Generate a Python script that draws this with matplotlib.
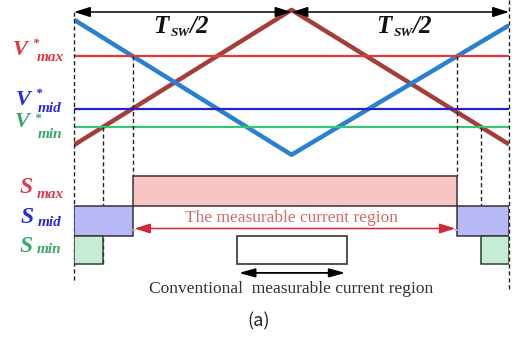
import numpy as np
import matplotlib.pyplot as plt
from matplotlib.patches import Rectangle, Circle

W, H = 518, 339

# carrier waveforms over one switching period (t as a fraction of Tsw)
t_knots = [0.0, 0.5, 1.0]
carrier_blue = [0.89, -1.04, 0.81]
carrier_brown = [-0.90, 1.03, -0.89]

# reference voltages V*max, V*mid, V*min
ref_names = ['max', 'mid', 'min']
ref_levels = [0.37, -0.39, -0.64]
ref_colors = ['#e23a3a', '#2424c8', '#38c474']
ref_label_colors = ['#e0383e', '#2a2ad8', '#38a868']

# switching state rows S_max, S_mid, S_min
state_rows = [(0.0, 1.0), (1.0, 2.0), (2.0, 2.93)]
state_fill = ['#f9c4c4', '#b8b8f6', '#c6ecd6']
state_edge = ['#403030', '#303048', '#304030']
state_label_colors = ['#e03a48', '#2a2ad0', '#3aa86a']

# conventional measurable current window (fraction of Tsw)
conv_window = [0.375, 0.628]


def cross(t0, t1, v0, v1, level):
    # time where a straight carrier segment meets a reference level
    return t0 + (level - v0) / (v1 - v0) * (t1 - t0)


t_a = cross(t_knots[0], t_knots[1], carrier_blue[0], carrier_blue[1], ref_levels[0])
t_b = cross(t_knots[0], t_knots[1], carrier_brown[0], carrier_brown[1], ref_levels[2])
t_c = cross(t_knots[1], t_knots[2], carrier_blue[1], carrier_blue[2], ref_levels[0])
t_d = cross(t_knots[1], t_knots[2], carrier_brown[1], carrier_brown[2], ref_levels[2])

fig = plt.figure(figsize=(W / 100, H / 100), dpi=100)
X0, X1 = 74, 509
ax_top = fig.add_axes([X0 / W, 1 - 161 / H, (X1 - X0) / W, (161 - 5) / H])
ax_top.set_xlim(0, 1)
ax_top.set_ylim(1 - (161 - 12) / 70, 1 + (12 - 5) / 70)
ax_low = fig.add_axes([X0 / W, 1 - 300 / H, (X1 - X0) / W, (300 - 161) / H])
ax_low.set_xlim(0, 1)
ax_low.set_ylim((300 - 176) / 30, (161 - 176) / 30)
for a in (ax_top, ax_low):
    a.axis('off')


def low_to_top(r):
    d = ax_low.transData.transform((0, r))
    return ax_top.transData.inverted().transform(d)[1]


serif = 'Liberation Serif'

# carriers
ax_top.plot(t_knots, carrier_brown, color='#a33f38', lw=3.2, solid_capstyle='butt', zorder=2)
ax_top.plot(t_knots, carrier_blue, color='#2a80d0', lw=3.2, solid_capstyle='butt', zorder=3)

# reference lines
for lvl, c in zip(ref_levels, ref_colors):
    ax_top.plot([0, 1], [lvl, lvl], color=c, lw=1.6, zorder=4)

# top period arrows
for t0, t1 in [(0, 0.5), (0.5, 1)]:
    ax_top.annotate('', xy=(t0, 1.0), xytext=(t1, 1.0),
                    arrowprops=dict(arrowstyle='<|-|>,head_length=0.7,head_width=0.22',
                                    color='black', lw=1.1, shrinkA=0, shrinkB=0,
                                    mutation_scale=14), annotation_clip=False)

# dashed verticals
dash = dict(color='#222222', lw=1.0, ls=(0, (3, 2)), clip_on=False, zorder=6)
ax_top.plot([0, 0], [1.0, low_to_top(3.57)], **dash)
ax_top.plot([1, 1], [1.17, low_to_top(3.8)], **dash)
ax_top.plot([t_a, t_a], [ref_levels[0], low_to_top(0)], **dash)
ax_top.plot([t_c, t_c], [ref_levels[0], low_to_top(0)], **dash)
ax_top.plot([t_b, t_b], [ref_levels[2], low_to_top(state_rows[2][1])], **dash)
ax_top.plot([t_d, t_d], [ref_levels[2], low_to_top(state_rows[2][1])], **dash)

# switching state boxes
spans = [[(t_a, t_c)], [(0, t_a), (t_c, 1)], [(0, t_b), (t_d, 1)]]
for (r0, r1), segs, fc, ec in zip(state_rows, spans, state_fill, state_edge):
    for s0, s1 in segs:
        ax_low.add_patch(Rectangle((s0, r0), s1 - s0, r1 - r0, facecolor=fc,
                                   edgecolor=ec, lw=1.1, zorder=2))

# measurable current region arrow
r_arrow = 1.75
ax_low.annotate('', xy=(t_a + 0.004, r_arrow), xytext=(t_c - 0.004, r_arrow),
                arrowprops=dict(arrowstyle='<|-|>,head_length=0.8,head_width=0.25',
                                color='#d02838', lw=1.1, shrinkA=0, shrinkB=0,
                                mutation_scale=12))
for tt in (t_a, t_c):
    ax_low.add_patch(Circle((tt, r_arrow + 0.05), 0.0065, facecolor='white',
                            edgecolor='#b0b0b0', lw=0.6, zorder=7))
ax_low.text(0.501, 1.53, 'The measurable current region', ha='center', va='baseline',
            family=serif, fontsize=12.5, color='#d46a6a', zorder=5)

# conventional window
ax_low.add_patch(Rectangle((conv_window[0], 2.0), conv_window[1] - conv_window[0], 0.93,
                           facecolor='white', edgecolor='#3a4a3a', lw=1.3, zorder=2))
ax_low.annotate('', xy=(conv_window[0] + 0.004, 3.23), xytext=(conv_window[1] - 0.004, 3.23),
                arrowprops=dict(arrowstyle='<|-|>,head_length=0.8,head_width=0.22',
                                color='black', lw=1.3, shrinkA=0, shrinkB=0,
                                mutation_scale=12))
ax_low.text(0.499, 3.9, 'Conventional  measurable current region', ha='center',
            va='baseline', family=serif, fontsize=12.5, color='#333333')


def ptext(x, y, s, **kw):
    fig.text(x / W, 1 - y / H, s, va='baseline', **kw)


bi = dict(family=serif, weight='bold', style='italic')

# T_SW/2 labels
for x in (153, 376):
    ptext(x, 33, 'T', fontsize=18, color='#111111', **bi)
    ptext(x + 18, 36, 'SW', fontsize=9.5, color='#111111', **bi)
    ptext(x + 37, 33, '/2', fontsize=18, color='#111111', **bi)

# V* labels: V baseline, star baseline, subscript baseline, subscript offset
v_pos = [(13, 55, 47, 61, 24), (16, 105, 97, 112, 22), (15, 127, 122, 138, 23)]
for name, c, (x, yb, yst, ys, dx) in zip(ref_names, ref_label_colors, v_pos):
    ptext(x, yb, 'V', fontsize=16, color=c, **bi)
    ptext(x + 20, yst, '*', fontsize=9, color=c, **bi)
    ptext(x + dx, ys, name, fontsize=11, color=c, **bi)

# S labels
s_pos = [(20, 193, 198), (21, 223, 226), (20, 252, 253)]
for name, c, (x, yb, ys) in zip(ref_names, state_label_colors, s_pos):
    ptext(x, yb, 'S', fontsize=17, color=c, **bi)
    ptext(x + 17, ys, name, fontsize=11, color=c, **bi)

ptext(259, 326, '(a)', fontsize=13, color='#222222', ha='center', family='Noto Sans CJK KR')

fig.savefig('out.png', dpi=100)
